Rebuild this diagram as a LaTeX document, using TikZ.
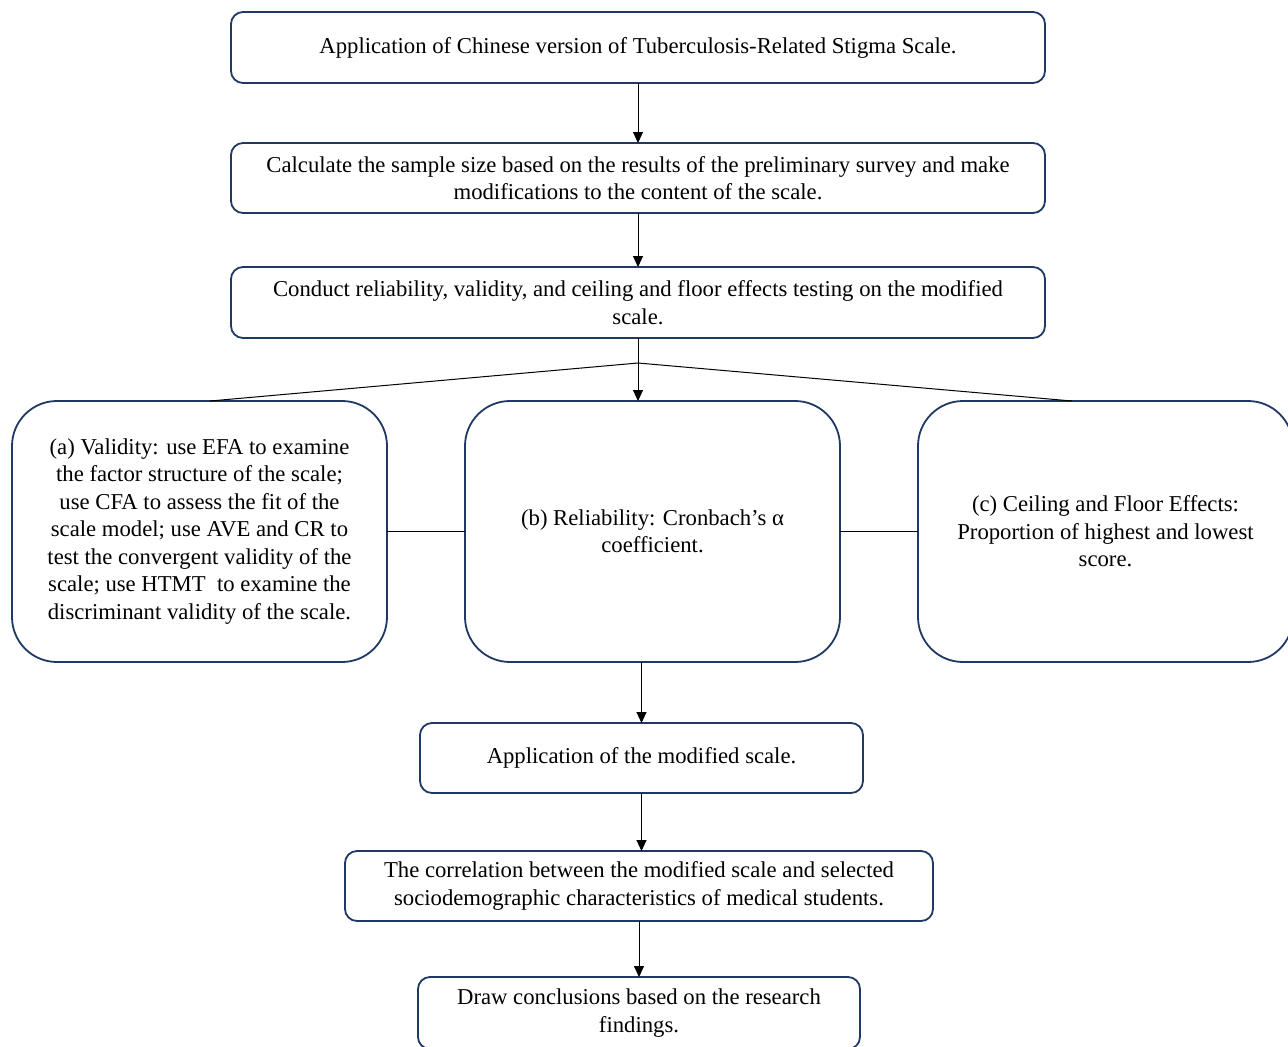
\documentclass[tikz,border=0pt]{standalone}
\usepackage{fontspec}
\setmainfont{Liberation Serif}
\usetikzlibrary{arrows.meta}
\definecolor{navy}{HTML}{1F3864}
\tikzset{
  box/.style={draw=navy, line width=1.8pt, rounded corners=12pt, inner sep=0pt, outer sep=0pt, align=center, font=\fontsize{22.7}{27.5}\selectfont},
  bigbox/.style={box, rounded corners=45pt, minimum width=375pt, minimum height=261pt},
  arr/.style={draw=black, line width=1pt, -{Triangle[length=11pt,width=10pt]}},
  ln/.style={draw=black, line width=1pt}
}
\begin{document}
\begin{tikzpicture}[x=1pt,y=-1pt]
\useasboundingbox (0,0) rectangle (1288,1047);
\begin{scope}
\clip (0,0) rectangle (1288,1047);
\node[box, minimum width=814pt, minimum height=71pt] (s1) at (638,47.5) {Application of Chinese version of Tuberculosis-Related Stigma Scale.};
\node[box, minimum width=814pt, minimum height=70pt] (s2) at (638,178) {Calculate the sample size based on the results of the preliminary survey and make\\modifications to the content of the scale.};
\node[box, minimum width=814pt, minimum height=71pt] (s3) at (638,302.5) {Conduct reliability, validity, and ceiling and floor effects testing on the modified\\scale.};
\node[bigbox] (a) at (199.5,531.5) {(a) Validity: use EFA to examine\\the factor structure of the scale;\\use CFA to assess the fit of the\\scale model; use AVE and CR to\\test the convergent validity of the\\scale; use HTMT\ \ to examine the\\discriminant validity of the scale.};
\node[bigbox] (b) at (652.5,531.5) {(b) Reliability: Cronbach's α\\coefficient.};
\node[bigbox] (c) at (1105.5,531.5) {(c) Ceiling and Floor Effects:\\Proportion of highest and lowest\\score.};
\node[box, minimum width=443pt, minimum height=70pt] (d) at (641.5,758) {Application of the modified scale.};
\node[box, minimum width=588pt, minimum height=70pt] (e) at (639,886) {The correlation between the modified scale and selected\\sociodemographic characteristics of medical students.};
\node[box, minimum width=442pt, minimum height=72pt] (f) at (639,1013) {Draw conclusions based on the research\\findings.};
\end{scope}
\coordinate (j) at (638,363);
\coordinate (aj) at (210,401);
\coordinate (cj) at (1072,401);
\draw[arr] (s1) -- (s2);
\draw[arr] (s2) -- (s3);
\draw[arr] (s3.south) -- (b.north -| s3.south);
\draw[ln] (aj) -- (j) -- (cj);
\draw[ln] (a.east) -- (b.west);
\draw[ln] (b.east) -- (c.west);
\draw[arr] (d.north |- b.south) -- (d.north);
\draw[arr] (d.south) -- (d.south |- e.north);
\draw[arr] (e.south) -- (e.south |- f.north);
\end{tikzpicture}
\end{document}
